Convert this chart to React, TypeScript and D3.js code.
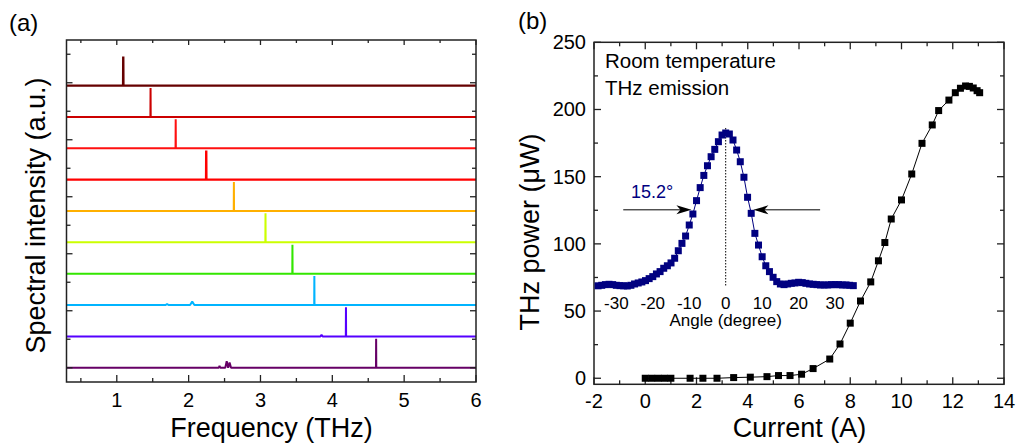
import React from "react";
import * as d3 from "d3";

const FONT = "'Liberation Sans', Arial, Helvetica, sans-serif";

// ---------- Panel (a) data ----------
const peakFreqs = [1.09, 1.47, 1.82, 2.245, 2.63, 3.07, 3.445, 3.75, 4.19, 4.61];
const traceColors = ["#660000", "#cc0000", "#ff1010", "#ff0000", "#ffb000", "#ccff00", "#33e600", "#00b4ff", "#5500ff", "#660066"];
const traceOffsets = [9.9, 8.8, 7.7, 6.6, 5.5, 4.4, 3.3, 2.2, 1.1, 0];
const peakHeight = 1.02;
// small side features: [trace index, freq, height, width]
const sideFeatures: [number, number, number, number][] = [
  [7, 1.7, 0.04, 0.04],
  [7, 2.05, 0.12, 0.06],
  [8, 3.85, 0.05, 0.03],
  [9, 2.43, 0.07, 0.02],
  [9, 2.53, 0.23, 0.04],
  [9, 2.57, 0.18, 0.04],
];
const freqTickLabels = [1, 2, 3, 4, 5, 6];

// ---------- Panel (b) data ----------
const currentA = [0, 0.25, 0.5, 0.75, 1.0, 1.75, 2.25, 2.8, 3.45, 4.1, 4.75, 5.2, 5.65, 6.1, 6.55, 7.2, 7.6, 8.0, 8.4, 8.8, 9.1, 9.35, 9.6, 10.0, 10.4, 10.8, 11.2, 11.45, 11.85, 12.1, 12.3, 12.5, 12.65, 12.8, 12.95, 13.05];
const powerUW = [0, 0, 0, 0, 0, 0, 0, 0, 0.5, 0.8, 1.2, 2, 2, 3, 7.2, 14.3, 25.5, 41, 57.5, 71.7, 87.4, 101, 118.5, 132.7, 152, 174.8, 188.5, 199.2, 207, 212.5, 215.8, 217.5, 217.2, 216, 214, 212.5];
const currentTicks = [-2, 0, 2, 4, 6, 8, 10, 12, 14];
const powerTicks = [0, 50, 100, 150, 200, 250];

// inset: angular profile
const angleDeg = [-35, -34, -33, -32, -31, -30, -29, -28, -27, -26, -25, -24, -23, -22, -21, -20, -19, -18, -17, -16, -15, -14, -13, -12, -11, -10, -9, -8, -7, -6, -5, -4, -3, -2, -1, 0, 1, 2, 3, 4, 5, 6, 7, 8, 9, 10, 11, 12, 13, 14, 15, 16, 17, 18, 19, 20, 21, 22, 23, 24, 25, 26, 27, 28, 29, 30, 31, 32, 33, 34, 35];
const angleIntensity = [0.085, 0.088, 0.092, 0.094, 0.092, 0.088, 0.086, 0.085, 0.084, 0.088, 0.096, 0.102, 0.108, 0.116, 0.128, 0.14, 0.156, 0.17, 0.19, 0.205, 0.222, 0.25, 0.295, 0.339, 0.383, 0.449, 0.515, 0.595, 0.673, 0.746, 0.804, 0.858, 0.902, 0.948, 0.988, 1.0, 0.994, 0.958, 0.898, 0.828, 0.735, 0.615, 0.519, 0.399, 0.329, 0.259, 0.205, 0.17, 0.136, 0.11, 0.096, 0.092, 0.096, 0.1, 0.102, 0.106, 0.104, 0.1, 0.096, 0.094, 0.092, 0.09, 0.09, 0.09, 0.092, 0.092, 0.092, 0.09, 0.09, 0.088, 0.086];
const angleTicks = [-30, -20, -10, 0, 10, 20, 30];
const fwhmLevel = 0.54;
const leftArrow = [-28.1, -9.4];
const rightArrow = [25.9, 7.6];
const fwhmLabel = "15.2°";

export default function App() {
  const xA = d3.scaleLinear().domain([0.3, 6]).range([66.5, 476]);
  const yA = d3.scaleLinear().domain([-0.5, 11.5]).range([382, 40]);
  const xB = d3.scaleLinear().domain([-2, 14]).range([594, 1004]);
  const yB = d3.scaleLinear().domain([-4.5, 250]).range([384.3, 42.3]);
  const xI = d3.scaleLinear().domain([-35, 35]).range([598.1, 853.3]);
  const yI = d3.scaleLinear().domain([0, 1]).range([300, 133]);

  const spectra = peakFreqs.map((pf, i) => {
    const feats: [number, number, number][] = [[pf, peakHeight, 0.004]];
    sideFeatures.filter((f) => f[0] === i).forEach((f) => feats.push([f[1], f[2], f[3]]));
    feats.sort((a, b) => a[0] - b[0]);
    const pts: [number, number][] = [[0.3, 0]];
    feats.forEach(([f, h, w]) => {
      pts.push([f - w / 2, 0], [f, h], [f + w / 2, 0]);
    });
    pts.push([6, 0]);
    const line = d3
      .line<[number, number]>()
      .x((d) => xA(d[0]))
      .y((d) => yA(d[1] + traceOffsets[i]));
    return { d: line(pts) as string, color: traceColors[i], i };
  });

  const aMinorX = d3.range(0.5, 6.01, 0.5);
  const aYTicks = d3.range(0, 12, 1);
  const bMinorX = d3.range(-2, 14.01, 1);
  const bMinorY = d3.range(0, 250.1, 25);

  const mainLine = d3
    .line<number>()
    .x((_, k) => xB(currentA[k]))
    .y((p) => yB(p))(powerUW) as string;

  const insetLine = d3
    .line<number>()
    .x((_, k) => xI(angleDeg[k]))
    .y((v) => yI(v))(angleIntensity) as string;

  const frameStroke = "#222";

  const arrowHead = (tipX: number, tipY: number, dir: number) => {
    const L = 15, H = 4.5, N = 11;
    return `M${tipX},${tipY} L${tipX - dir * L},${tipY - H} L${tipX - dir * N},${tipY} L${tipX - dir * L},${tipY + H} Z`;
  };

  return (
    <div style={{ position: "absolute", left: 0, top: 0 }}>
      <svg width={1017} height={443} style={{ display: "block", background: "#fff" }} fontFamily={FONT}>
        {/* ================= Panel (a) ================= */}
        <text x={9} y={31} fontSize={24}>(a)</text>
        {spectra.map((s) => (
          <path key={s.i} d={s.d} fill="none" stroke={s.color} strokeWidth={s.i === 0 || s.i === 3 ? 2.4 : 2} strokeLinejoin="bevel" />
        ))}
        <rect x={xA(0.3)} y={40} width={xA(6) - xA(0.3)} height={342} fill="none" stroke={frameStroke} strokeWidth={1.5} />
        {aMinorX.map((v) => {
          const major = Math.abs(v - Math.round(v)) < 1e-6;
          return (
            <g key={"ax" + v}>
              <line x1={xA(v)} x2={xA(v)} y1={382} y2={382 - (major ? 7 : 4)} stroke={frameStroke} strokeWidth={1.3} />
              <line x1={xA(v)} x2={xA(v)} y1={40} y2={40 + (major ? 5 : 3)} stroke={frameStroke} strokeWidth={1.3} />
            </g>
          );
        })}
        {aYTicks.map((v) => {
          const major = v % 2 === 0;
          return (
            <g key={"ay" + v}>
              <line x1={xA(0.3)} x2={xA(0.3) + (major ? 6 : 4)} y1={yA(v)} y2={yA(v)} stroke={frameStroke} strokeWidth={1.3} />
              <line x1={xA(6)} x2={xA(6) - (major ? 6 : 4)} y1={yA(v)} y2={yA(v)} stroke={frameStroke} strokeWidth={1.3} />
            </g>
          );
        })}
        {freqTickLabels.map((v) => (
          <text key={"al" + v} x={xA(v)} y={407} fontSize={20} textAnchor="middle">{v}</text>
        ))}
        <text x={271.5} y={437} fontSize={27} textAnchor="middle">Frequency (THz)</text>
        <text transform="translate(45,215.5) rotate(-90)" fontSize={27} textAnchor="middle">Spectral intensity (a.u.)</text>

        {/* ================= Panel (b) ================= */}
        <text x={518} y={29} fontSize={24}>(b)</text>
        <rect x={xB(-2)} y={yB(250)} width={xB(14) - xB(-2)} height={yB(-4.5) - yB(250)} fill="none" stroke={frameStroke} strokeWidth={1.5} />
        {bMinorX.map((v) => {
          const major = v % 2 === 0;
          return (
            <g key={"bx" + v}>
              <line x1={xB(v)} x2={xB(v)} y1={yB(-4.5)} y2={yB(-4.5) - (major ? 7 : 4)} stroke={frameStroke} strokeWidth={1.3} />
              <line x1={xB(v)} x2={xB(v)} y1={yB(250)} y2={yB(250) + (major ? 7 : 4)} stroke={frameStroke} strokeWidth={1.3} />
            </g>
          );
        })}
        {bMinorY.map((v) => {
          const major = v % 50 === 0;
          return (
            <g key={"by" + v}>
              <line x1={xB(-2)} x2={xB(-2) + (major ? 7 : 4)} y1={yB(v)} y2={yB(v)} stroke={frameStroke} strokeWidth={1.3} />
              <line x1={xB(14)} x2={xB(14) - (major ? 7 : 4)} y1={yB(v)} y2={yB(v)} stroke={frameStroke} strokeWidth={1.3} />
            </g>
          );
        })}
        {currentTicks.map((v) => (
          <text key={"bl" + v} x={xB(v)} y={408} fontSize={20} textAnchor="middle">{v}</text>
        ))}
        {powerTicks.map((v) => (
          <text key={"bp" + v} x={586} y={yB(v) + 7} fontSize={20} textAnchor="end">{v}</text>
        ))}
        <text x={799.5} y={437} fontSize={27} textAnchor="middle">Current (A)</text>
        <text transform="translate(539,232) rotate(-90)" fontSize={27} textAnchor="middle">THz power (μW)</text>
        <text x={605} y={68} fontSize={20.5}>Room temperature</text>
        <text x={605} y={95} fontSize={20.5}>THz emission</text>

        {/* main curve */}
        <path d={mainLine} fill="none" stroke="#000" strokeWidth={1} />
        {powerUW.map((p, k) => (
          <rect key={"m" + k} x={xB(currentA[k]) - 3.5} y={yB(p) - 3.5} width={7} height={7} fill="#000" />
        ))}

        {/* inset */}
        <line x1={xI(0)} x2={xI(0)} y1={yI(1.03)} y2={yI(0.08)} stroke="#000" strokeWidth={1} strokeDasharray="1.5,1.5" />
        <path d={insetLine} fill="none" stroke="#000080" strokeWidth={1} />
        {angleIntensity.map((v, k) => (
          <rect key={"i" + k} x={xI(angleDeg[k]) - 3.5} y={yI(v) - 3.5} width={7} height={7} fill="#000080" />
        ))}
        {angleTicks.map((v) => (
          <text key={"il" + v} x={xI(v)} y={309} fontSize={17} textAnchor="middle">{v}</text>
        ))}
        <text x={xI(0)} y={326} fontSize={17} textAnchor="middle">Angle (degree)</text>
        {/* FWHM arrows */}
        <line x1={xI(leftArrow[0])} x2={xI(leftArrow[1]) - 10} y1={yI(fwhmLevel)} y2={yI(fwhmLevel)} stroke="#000" strokeWidth={1} />
        <path d={arrowHead(xI(leftArrow[1]), yI(fwhmLevel), 1)} fill="#000" />
        <line x1={xI(rightArrow[0])} x2={xI(rightArrow[1]) + 10} y1={yI(fwhmLevel)} y2={yI(fwhmLevel)} stroke="#000" strokeWidth={1} />
        <path d={arrowHead(xI(rightArrow[1]), yI(fwhmLevel), -1)} fill="#000" />
        <text x={631} y={198} fontSize={18} fill="#000080">{fwhmLabel}</text>
      </svg>
    </div>
  );
}
